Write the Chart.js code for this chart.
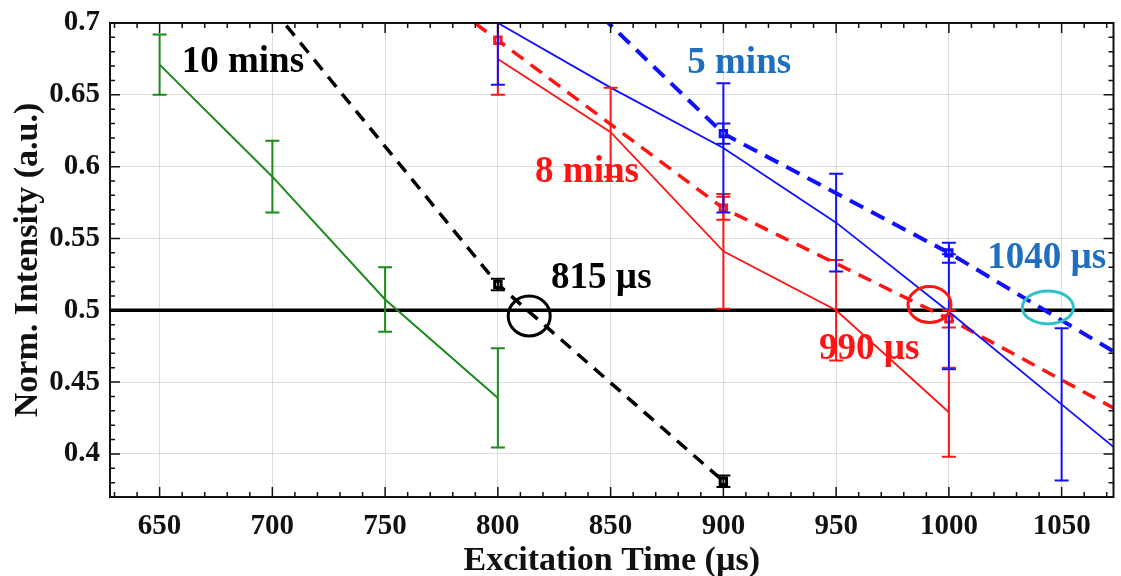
<!DOCTYPE html>
<html>
<head>
<meta charset="utf-8">
<script src="https://cdn.jsdelivr.net/npm/chart.js@4.4.0/dist/chart.umd.min.js"></script>
<style>
html, body { margin: 0; padding: 0; background: #fff; overflow: hidden; }
canvas { display: block; }
</style>
</head>
<body>
<canvas id="chart" width="1121" height="576"></canvas>
<script>
// Tick labels
const xTicks = [650, 700, 750, 800, 850, 900, 950, 1000, 1050];
const yTicks = [0.4, 0.45, 0.5, 0.55, 0.6, 0.65, 0.7];

// 10 mins - measured (green)
const greenX = [650, 700, 750, 800];
const greenY = [0.671, 0.593, 0.5075, 0.439];
const greenErr = [0.021, 0.025, 0.0225, 0.0345];

// 10 mins - dashed (black)
const blackX = [700, 800, 900];
const blackY = [0.71, 0.518, 0.381];
const blackErr = [0, 0.004, 0.004];

// 8 mins (red)
const redX = [800, 850, 900, 950, 1000];
const redY = [0.675, 0.624, 0.541, 0.500, 0.429];
const redErr = [0, 0.031, 0.040, 0.035, 0.031];
const redDashX = [700, 800, 900, 1000, 1100];
const redDashY = [0.805, 0.688, 0.571, 0.494, 0.409];
const redDashErr = [0, 0.038, 0.008, 0.006, 0];

// 5 mins (blue)
const blueX = [800, 850, 900, 950, 1000, 1050, 1100];
const blueY = [0.700, 0.655, 0.613, 0.561, 0.499, 0.4345, 0.370];
const blueErr = [0.043, 0, 0.045, 0.034, 0.040, 0.053, 0];
const blueDashX = [800, 900, 1000, 1100];
const blueDashY = [0.774, 0.623, 0.540, 0.446];
const blueDashErr = [0, 0.007, 0.007, 0];

// 50% level
const refX = [600, 1100];
const refY = [0.5, 0.5];

// Annotations (text + circled crossings)
const notes = [
    { text: '10 mins', x: 659.8, y: 0.6725, color: '#000000' },
    { text: '5 mins', x: 884, y: 0.6715, color: '#1f6fc0' },
    { text: '8 mins', x: 816.5, y: 0.5963, color: '#ff1414' },
    { text: '815 µs', x: 823.6, y: 0.5225, color: '#000000' },
    { text: '990 µs', x: 942.4, y: 0.4725, color: '#ff1414' },
    { text: '1040 µs', x: 1017, y: 0.5363, color: '#1f6fc0' }
];
const rings = [
    { x: 813.9, y: 0.496, rx: 21, ry: 20, color: '#000000' },
    { x: 991.4, y: 0.504, rx: 21.5, ry: 18, color: '#ff1414' },
    { x: 1043.9, y: 0.502, rx: 25.5, ry: 16.5, color: '#2fc1c9' }
];

const serif = 'Liberation Serif';

function pts(xs, ys) {
    return xs.map((x, i) => ({ x: x, y: ys[i] }));
}

// Draw vertical error bars with caps
const errorBars = {
    id: 'errorBars',
    afterDatasetsDraw(chart) {
        const { ctx, chartArea: a, scales: { x, y } } = chart;
        ctx.save();
        ctx.beginPath();
        ctx.rect(a.left, a.top, a.right - a.left, a.bottom - a.top);
        ctx.clip();
        chart.data.datasets.forEach(ds => {
            if (!ds.errors) return;
            ctx.strokeStyle = ds.borderColor;
            ctx.lineWidth = ds.errWidth || 2;
            ds.data.forEach((p, i) => {
                const e = ds.errors[i];
                if (!e) return;
                const px = x.getPixelForValue(p.x);
                const top = y.getPixelForValue(p.y + e);
                const bot = y.getPixelForValue(p.y - e);
                ctx.beginPath();
                ctx.moveTo(px, top); ctx.lineTo(px, bot);
                ctx.moveTo(px - 7, top); ctx.lineTo(px + 7, top);
                ctx.moveTo(px - 7, bot); ctx.lineTo(px + 7, bot);
                ctx.stroke();
            });
        });
        ctx.restore();
    }
};

// Box frame with inward major/minor ticks on all sides
const frameAndTicks = {
    id: 'frameAndTicks',
    afterDraw(chart) {
        const { ctx, chartArea: a, scales: { x, y } } = chart;
        ctx.save();
        ctx.strokeStyle = '#111';
        ctx.lineWidth = 1.5;
        ctx.beginPath();
        for (let k = 63; k <= 107; k++) {
            const px = x.getPixelForValue(k * 10);
            const len = (k % 5 === 0) ? 10 : 5;
            ctx.moveTo(px, a.bottom); ctx.lineTo(px, a.bottom - len);
            ctx.moveTo(px, a.top); ctx.lineTo(px, a.top + len);
        }
        for (let k = 38; k <= 69; k++) {
            const py = y.getPixelForValue(k / 100);
            const len = (k % 5 === 0) ? 10 : 5;
            ctx.moveTo(a.left, py); ctx.lineTo(a.left + len, py);
            ctx.moveTo(a.right, py); ctx.lineTo(a.right - len, py);
        }
        ctx.stroke();
        ctx.lineWidth = 2;
        ctx.strokeRect(a.left, a.top, a.right - a.left, a.bottom - a.top);
        ctx.restore();
    }
};

const annotations = {
    id: 'annotations',
    afterDraw(chart) {
        const { ctx, scales: { x, y } } = chart;
        ctx.save();
        ctx.lineWidth = 3;
        rings.forEach(r => {
            ctx.strokeStyle = r.color;
            ctx.beginPath();
            ctx.ellipse(x.getPixelForValue(r.x), y.getPixelForValue(r.y), r.rx, r.ry, 0, 0, Math.PI * 2);
            ctx.stroke();
        });
        ctx.font = 'bold 37px "' + serif + '"';
        ctx.textAlign = 'left';
        ctx.textBaseline = 'middle';
        notes.forEach(n => {
            ctx.fillStyle = n.color;
            ctx.fillText(n.text, x.getPixelForValue(n.x), y.getPixelForValue(n.y));
        });
        ctx.restore();
    }
};

const tickFont = { family: serif, size: 29, weight: 'bold' };
const titleFont = { family: serif, size: 34, weight: 'bold', lineHeight: 1 };

new Chart(document.getElementById('chart'), {
    type: 'line',
    data: {
        datasets: [
            {
                data: pts(refX, refY), borderColor: '#000', borderWidth: 3.5,
                pointRadius: 0, order: 10
            },
            {
                data: pts(greenX, greenY), errors: greenErr, borderColor: '#1b8a1b',
                borderWidth: 2, pointRadius: 0, order: 5
            },
            {
                data: pts(blackX, blackY), errors: blackErr, borderColor: '#000',
                borderWidth: 3.5, borderDash: [13, 9], pointStyle: 'rect',
                pointRadius: [0, 4.5, 4.5], pointBorderWidth: 3,
                pointBackgroundColor: '#fff', pointBorderColor: '#000', order: 4
            },
            {
                data: pts(redX, redY), errors: redErr, borderColor: '#ff1414',
                borderWidth: 1.8, pointRadius: 0, order: 3
            },
            {
                data: pts(redDashX, redDashY), errors: redDashErr, borderColor: '#ff1414',
                borderWidth: 3.5, borderDash: [14, 9], pointStyle: 'rect',
                pointRadius: [0, 4.5, 4.5, 4.5, 0], pointBorderWidth: 3,
                pointBackgroundColor: '#fff', pointBorderColor: '#ff1414', order: 3
            },
            {
                data: pts(blueX, blueY), errors: blueErr, borderColor: '#1010ff',
                borderWidth: 1.8, pointRadius: 0, order: 2
            },
            {
                data: pts(blueDashX, blueDashY), errors: blueDashErr, borderColor: '#1010ff',
                borderWidth: 4, borderDash: [15, 9], pointStyle: 'rect',
                pointRadius: [0, 4.5, 4.5, 0], pointBorderWidth: 3,
                pointBackgroundColor: '#fff', pointBorderColor: '#1010ff', order: 2
            }
        ]
    },
    options: {
        responsive: false,
        animation: false,
        clip: 0,
        layout: { padding: { top: 23, right: 3, left: 0, bottom: 0 } },
        plugins: {
            legend: { display: false },
            tooltip: { enabled: false }
        },
        elements: { line: { tension: 0 } },
        scales: {
            x: {
                type: 'linear',
                min: 628,
                max: 1073,
                afterBuildTicks: s => { s.ticks = xTicks.map(v => ({ value: v })); },
                afterFit: s => { s.height = 79; s.paddingLeft = 0; s.paddingRight = 0; },
                grid: { color: '#dcdcdc', lineWidth: 1, drawTicks: false },
                border: { display: false },
                ticks: {
                    font: tickFont, color: '#111', padding: 12,
                    maxRotation: 0, autoSkip: false,
                    callback: v => String(v)
                },
                title: {
                    display: true, text: 'Excitation Time (µs)', font: titleFont,
                    color: '#111', padding: { top: 0, bottom: -2 }
                }
            },
            y: {
                type: 'linear',
                min: 0.37,
                max: 0.7,
                afterBuildTicks: s => { s.ticks = yTicks.map(v => ({ value: v })); },
                afterFit: s => { s.width = 110; s.paddingTop = 0; s.paddingBottom = 0; },
                grid: { color: '#dcdcdc', lineWidth: 1, drawTicks: false },
                border: { display: false },
                ticks: {
                    font: tickFont, color: '#111', padding: 10,
                    autoSkip: false,
                    callback: v => String(v)
                },
                title: {
                    display: true, text: 'Norm. Intensity (a.u.)', font: titleFont,
                    color: '#111', padding: { top: 11, bottom: 0 }
                }
            }
        }
    },
    plugins: [errorBars, frameAndTicks, annotations]
});
</script>
</body>
</html>
